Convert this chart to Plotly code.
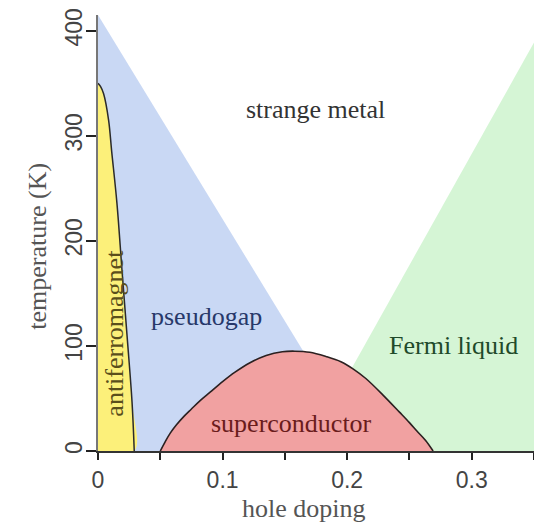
import plotly.graph_objects as go

# ---- data ----
# pseudogap region (T* line from top of axis down to T=0)
pg_x = [0.0, 0.0, 0.2137]
pg_T = [0, 415, 0]

# Fermi liquid wedge
fl_x = [0.1665, 0.36, 0.36]
fl_T = [0, 410, 0]

# antiferromagnet boundary (Neel temperature)
af_x = [0.0, 0.002, 0.0045, 0.0085, 0.011, 0.0152, 0.0192, 0.0233, 0.0273, 0.0291]
af_T = [350, 347, 340, 315, 285, 236, 173, 110, 47, 0]

# superconducting dome
sc_x = [0.050, 0.054, 0.058, 0.063, 0.069, 0.075, 0.082, 0.090, 0.100, 0.110, 0.122,
        0.135, 0.148, 0.158, 0.170, 0.183, 0.195, 0.205, 0.215, 0.229, 0.242,
        0.250, 0.256, 0.263, 0.269]
sc_T = [0, 9, 17, 25, 33, 40, 48, 56, 66, 75, 84,
        91, 94.5, 95, 94, 90, 85, 78, 69, 53, 37,
        27, 19, 10, 0]

x_ticks = [0, 0.05, 0.1, 0.15, 0.2, 0.25, 0.3, 0.35]
x_ticktext = ["0", "", "0.1", "", "0.2", "", "0.3", ""]
y_ticks = [0, 100, 200, 300, 400]
y_ticktext = ["0", "100", "200", "300", "400"]

# region labels: (text, x, T, color, angle)
labels = [
    ("strange metal", 0.1747, 325, "#333333", 0),
    ("pseudogap", 0.0872, 128, "#27386a", 0),
    ("superconductor", 0.1554, 26, "#6a1c1c", 0),
    ("Fermi liquid", 0.2853, 100, "#1f4a2a", 0),
    ("antiferromagnet", 0.0131, 112, "#5a4e1c", -90),
]

BLUE = "#c9d8f4"
GREEN = "#d5f5d5"
YELLOW = "#fcf07a"
RED = "#f1a1a1"
SERIF = "Liberation Serif"
SANS = "Liberation Sans"

fig = go.Figure()
fig.add_trace(go.Scatter(x=pg_x, y=pg_T, fill="toself", fillcolor=BLUE,
                         mode="none", hoverinfo="skip"))
fig.add_trace(go.Scatter(x=fl_x, y=fl_T, fill="toself", fillcolor=GREEN,
                         mode="none", hoverinfo="skip"))
# antiferromagnet fill + outline
fig.add_trace(go.Scatter(x=af_x + [0.0], y=af_T + [0], fill="toself", fillcolor=YELLOW,
                         mode="none", line=dict(shape="spline"), hoverinfo="skip"))
fig.add_trace(go.Scatter(x=af_x, y=af_T, mode="lines",
                         line=dict(color="#2b2b2b", width=1.5, shape="spline"),
                         hoverinfo="skip"))
# superconducting dome fill + outline
fig.add_trace(go.Scatter(x=sc_x, y=sc_T, fill="toself", fillcolor=RED,
                         mode="lines", line=dict(color="#2b2020", width=1.6, shape="spline"),
                         hoverinfo="skip"))

for text, x, t, color, ang in labels:
    fig.add_annotation(x=x, y=t, text=text, showarrow=False, textangle=ang,
                       font=dict(family=SERIF, size=26, color=color),
                       xanchor="center", yanchor="middle")

# axis titles
fig.add_annotation(xref="paper", x=0, xshift=-60, y=194.5, text="temperature (K)",
                   showarrow=False, textangle=-90, xanchor="center", yanchor="middle",
                   font=dict(family=SERIF, size=26, color="#555555"))
fig.add_annotation(x=0.165, yref="paper", y=0, yshift=-57, text="hole doping",
                   showarrow=False, xanchor="center", yanchor="middle",
                   font=dict(family=SERIF, size=26, color="#555555"))

fig.update_layout(
    width=534, height=522,
    margin=dict(l=98, r=0, t=15, b=71, autoexpand=False),
    paper_bgcolor="white", plot_bgcolor="white",
    showlegend=False,
)
fig.update_xaxes(range=[0, 0.35], tickvals=x_ticks, ticktext=x_ticktext,
                 showgrid=False, zeroline=False, showline=True, linecolor="#333333",
                 linewidth=1.5, ticks="outside", ticklen=7, tickwidth=2, tickcolor="#222222",
                 ticklabelstandoff=1, automargin=False,
                 tickfont=dict(family=SANS, size=23, color="#444444"))
fig.update_yaxes(range=[0, 415], tickvals=y_ticks, ticktext=y_ticktext, tickangle=-90,
                 showgrid=False, zeroline=False, showline=True, linecolor="#777777",
                 linewidth=1.5, ticks="outside", ticklen=10, tickwidth=2, tickcolor="#222222",
                 ticklabelstandoff=-5, automargin=False,
                 tickfont=dict(family=SANS, size=23, color="#444444"))

fig.write_html("out.html", config={"displayModeBar": False},
               post_script="document.body.style.margin='0';document.body.style.overflow='hidden';")
